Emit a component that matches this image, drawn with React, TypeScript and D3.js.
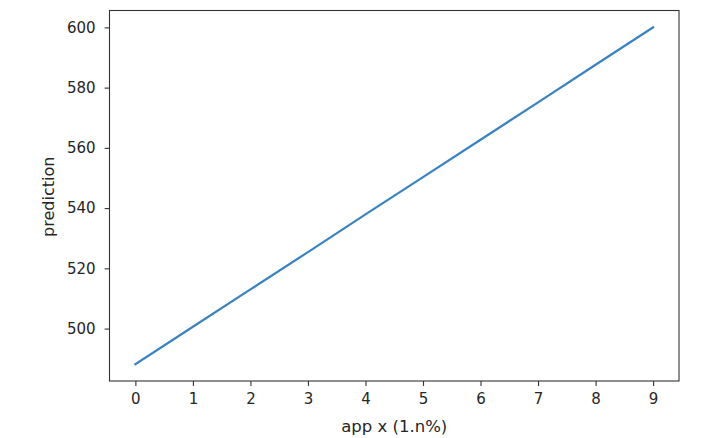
import { useEffect, useRef } from "react";
import * as d3 from "d3";

const xValues = [0, 1, 2, 3, 4, 5, 6, 7, 8, 9];
const predictions = [488.2, 500.6, 513.0, 525.4, 537.9, 550.3, 562.7, 575.1, 587.6, 600.0];
const xTicks = [0, 1, 2, 3, 4, 5, 6, 7, 8, 9];
const yTicks = [500, 520, 540, 560, 580, 600];

const App = () => {
  const svgRef = useRef(null);

  useEffect(() => {
    const w = 722;
    const h = 438;
    const left = 109.5;
    const right = 679;
    const top = 10.5;
    const bottom = 381;
    const font = "DejaVu Sans, sans-serif";

    const svg = d3.select(svgRef.current).attr("width", w).attr("height", h);
    svg.selectAll("*").remove();

    const xScale = d3.scaleLinear().domain([-0.45, 9.45]).range([left, right]);
    const yScale = d3.scaleLinear().domain([482.6, 605.6]).range([bottom, top]);

    svg.append("rect").attr("width", w).attr("height", h).attr("fill", "white");

    const line = d3
      .line<number>()
      .x((_, i) => xScale(xValues[i]))
      .y((d) => yScale(d));

    svg
      .append("path")
      .datum(predictions)
      .attr("d", line)
      .attr("fill", "none")
      .attr("stroke", "#3a83c0")
      .attr("stroke-width", 2.2)
      .attr("stroke-linecap", "square");

    const xAxis = d3
      .axisBottom(xScale)
      .tickValues(xTicks)
      .tickSize(4.9)
      .tickPadding(7)
      .tickSizeOuter(0);
    const gx = svg.append("g").attr("transform", `translate(0, ${bottom})`).call(xAxis);
    gx.select(".domain").remove();
    gx.selectAll("line").attr("stroke", "#333").attr("stroke-width", 1.1);
    gx.selectAll("text")
      .attr("fill", "#262626")
      .style("font-family", font)
      .style("font-size", "15px");

    const yAxis = d3
      .axisLeft(yScale)
      .tickValues(yTicks)
      .tickSize(4.9)
      .tickPadding(9)
      .tickSizeOuter(0);
    const gy = svg.append("g").attr("transform", `translate(${left}, 0)`).call(yAxis);
    gy.select(".domain").remove();
    gy.selectAll("line").attr("stroke", "#333").attr("stroke-width", 1.1);
    gy.selectAll("text")
      .attr("fill", "#262626")
      .style("font-family", font)
      .style("font-size", "15px");

    svg
      .append("rect")
      .attr("x", left)
      .attr("y", top)
      .attr("width", right - left)
      .attr("height", bottom - top)
      .attr("fill", "none")
      .attr("stroke", "#333")
      .attr("stroke-width", 1.1);

    svg
      .append("text")
      .attr("x", (left + right) / 2)
      .attr("y", 431.5)
      .attr("text-anchor", "middle")
      .attr("fill", "#262626")
      .style("font-family", font)
      .style("font-size", "16.5px")
      .text("app x (1.n%)");

    svg
      .append("text")
      .attr("transform", `translate(54, ${(top + bottom) / 2 + 1}) rotate(-90)`)
      .attr("text-anchor", "middle")
      .attr("fill", "#262626")
      .style("font-family", font)
      .style("font-size", "16px")
      .text("prediction");

    return () => {
      svg.selectAll("*").remove();
    };
  }, []);

  return (
    <div style={{ position: "absolute", left: 0, top: 0 }}>
      <svg ref={svgRef} style={{ display: "block" }} />
    </div>
  );
};

export default App;
